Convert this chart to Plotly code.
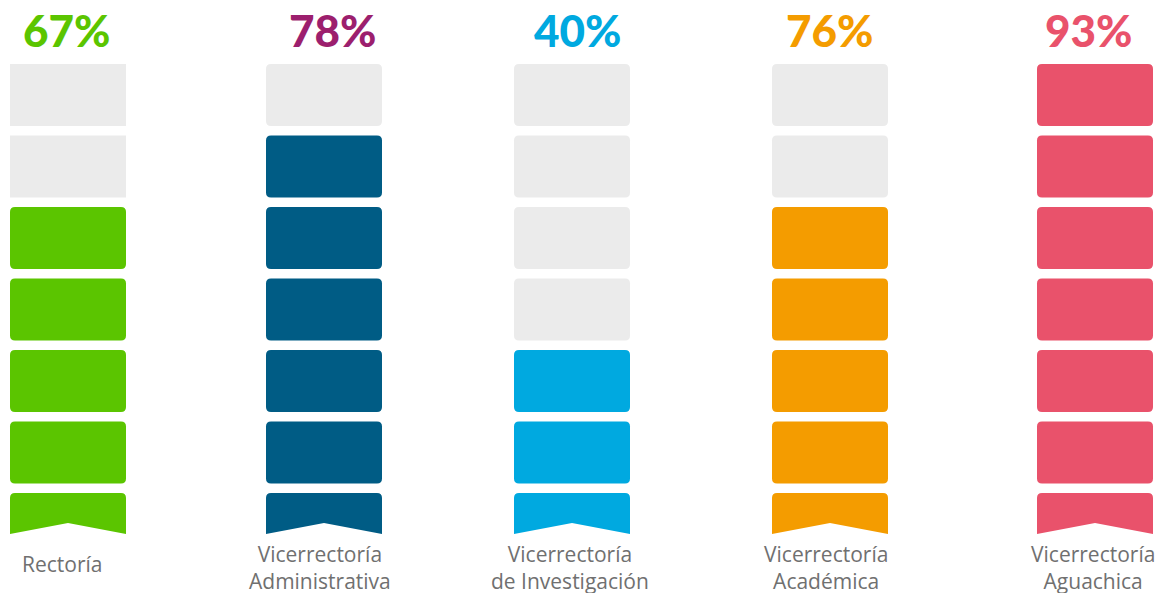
import plotly.graph_objects as go

# ---- data ----
categories = ["Rectoría", "Vicerrectoría<br>Administrativa", "Vicerrectoría<br>de Investigación",
              "Vicerrectoría<br>Académica", "Vicerrectoría<br>Aguachica"]
percent_labels = ["67%", "78%", "40%", "76%", "93%"]
filled_blocks = [5, 6, 3, 5, 7]
total_blocks = 7

# ---- style / layout ----
fill_colors = ["#5BC500", "#005C85", "#00A9E0", "#F49C00", "#E9526B"]
pct_colors = ["#5BC500", "#9C1F6E", "#00A9E0", "#F49C00", "#E9526B"]
empty_color = "#EBEBEB"
empty_radius = [0, 5, 5, 5, 5]
col_left = [10, 266, 514, 772, 1037]
pct_x = [66.5, 332, 577.5, 829, 1088]
label_x = [62, 320, 570, 826, 1093]
block_w = 116
block_h = 62
pitch = 71.5
top0 = 64
ribbon_h = 41
notch = 11
r = 5

W, H = 1159, 593

def rounded_rect(x0, y0, x1, y1, r):
    return (f"M{x0+r},{y0} L{x1-r},{y0} Q{x1},{y0} {x1},{y0+r} "
            f"L{x1},{y1-r} Q{x1},{y1} {x1-r},{y1} L{x0+r},{y1} "
            f"Q{x0},{y1} {x0},{y1-r} L{x0},{y0+r} Q{x0},{y0} {x0+r},{y0} Z")

def ribbon(x0, y0, x1, y1, r, notch):
    xc = (x0 + x1) / 2
    return (f"M{x0+r},{y0} L{x1-r},{y0} Q{x1},{y0} {x1},{y0+r} "
            f"L{x1},{y1} L{xc},{y1-notch} L{x0},{y1} "
            f"L{x0},{y0+r} Q{x0},{y0} {x0+r},{y0} Z")

shapes = []
annotations = []
for i, cat in enumerate(categories):
    x0 = col_left[i]
    x1 = x0 + block_w
    for k in range(total_blocks):
        idx_from_top = total_blocks - 1 - k
        y0 = top0 + idx_from_top * pitch
        filled = k < filled_blocks[i]
        color = fill_colors[i] if filled else empty_color
        rr = r if filled else empty_radius[i]
        if k == 0:
            path = ribbon(x0, y0, x1, y0 + ribbon_h, rr, notch)
        else:
            path = rounded_rect(x0, y0, x1, y0 + block_h, rr)
        shapes.append(dict(type="path", path=path, xref="x", yref="y",
                           fillcolor=color, line=dict(width=0), layer="below"))
    annotations.append(dict(x=pct_x[i], y=30, xref="x", yref="y", text=percent_labels[i],
                            showarrow=False,
                            font=dict(family="Lato", size=44, color=pct_colors[i], weight=900),
                            xanchor="center", yanchor="middle"))
    two = "<br>" in cat
    annotations.append(dict(x=label_x[i], y=567 if two else 564, xref="x", yref="y", text=cat,
                            showarrow=False,
                            font=dict(family="Open Sans", size=21, color="#707070"),
                            xanchor="center", yanchor="middle", align="center"))

fig = go.Figure()
fig.add_trace(go.Scatter(x=[0, W], y=[0, H], mode="markers", marker=dict(opacity=0),
                         hoverinfo="skip", showlegend=False))
fig.update_layout(
    width=W, height=H, margin=dict(l=0, r=0, t=0, b=0),
    paper_bgcolor="white", plot_bgcolor="white",
    xaxis=dict(range=[0, W], visible=False, fixedrange=True),
    yaxis=dict(range=[H, 0], visible=False, fixedrange=True),
    shapes=shapes, annotations=annotations, showlegend=False,
)
fig.write_html("out.html", config={"displayModeBar": False},
               post_script="document.body.style.margin='0';document.body.style.overflow='hidden';")
